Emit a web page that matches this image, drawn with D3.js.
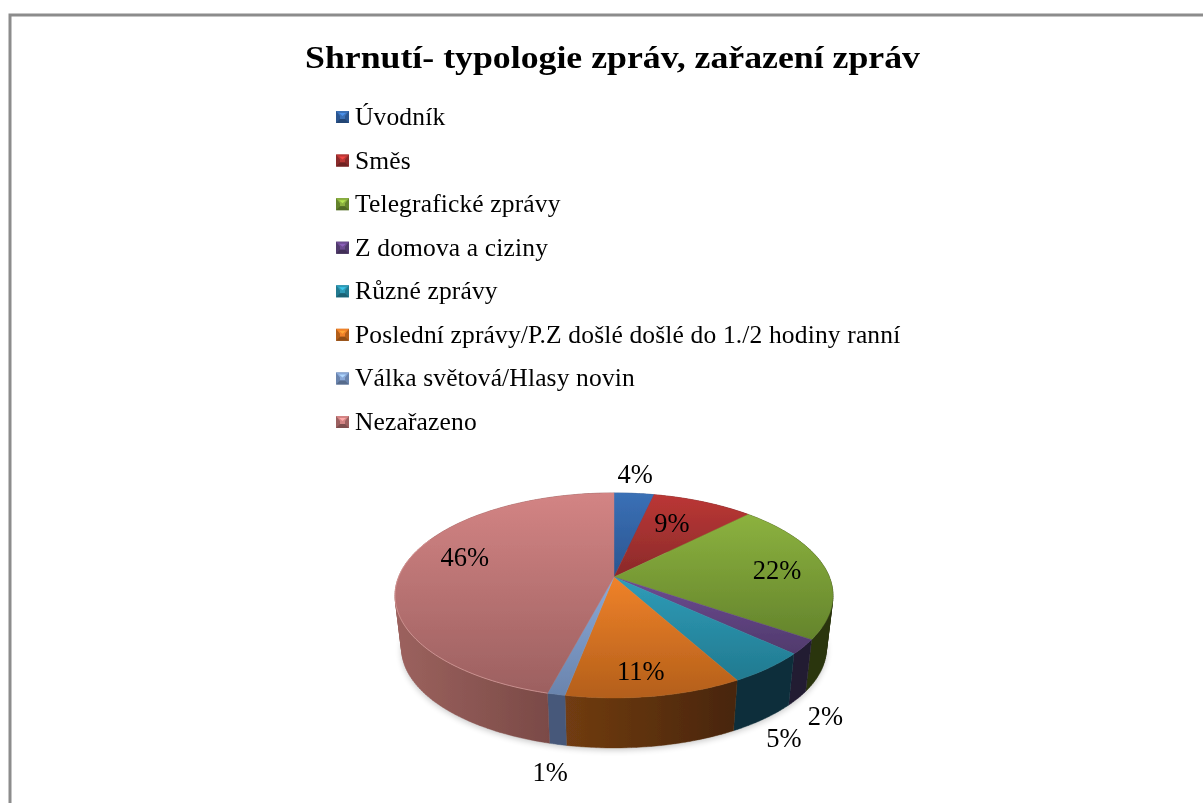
<!DOCTYPE html>
<html><head><meta charset="utf-8">
<script src="https://cdnjs.cloudflare.com/ajax/libs/d3/7.8.5/d3.min.js"></script>
<style>html,body{margin:0;padding:0;background:#fff;overflow:hidden}svg{display:block}</style>
</head><body><svg id="c" width="1203" height="803"></svg>
<script>
const titleText = "Shrnutí- typologie zpráv, zařazení zpráv";
const categories = ["Úvodník","Směs","Telegrafické zprávy","Z domova a ciziny","Různé zprávy","Poslední zprávy/P.Z došlé došlé do 1./2 hodiny ranní","Válka světová/Hlasy novin","Nezařazeno"];
const values = [3.5,8.9,22.2,2.3,5.1,11.0,1.1,45.9];
const percentLabels = ["4%","9%","22%","2%","5%","11%","1%","46%"];
const faceTop = ["#3a70b6","#bb3735","#8cb23f","#6d4b92","#2f9cb8","#f0822a","#8aa9d8","#d38484"];
const faceBottom = ["#2a5590","#8a2a2a","#64842c","#503a6c","#217a90","#b35f1a","#6a84ad","#9c6060"];
const sideLeft = ["#2a4a78","#5e1f1f","#2c3410","#221a33","#0e2f3b","#713c12","#46597a","#9c625e"];
const sideRight = ["#2a4a78","#5e1f1f","#2a3410","#221a33","#0e2f3b","#482508","#46597a","#6c403d"];
// label placement: radial factor, angle nudge in degrees
const labelRadius = [1.28,0.673,0.77,1.367,1.395,0.817,1.469,0.748];
const labelNudge = [-0.9,-2.3,0.2,16.3,12,1.5,-4.2,8.8];

const svg = d3.select("#c");
const defs = svg.append("defs");
const serif = "'Liberation Serif','Times New Roman',serif";

// frame
svg.append("path").attr("d","M10 803V15H1203").attr("fill","none").attr("stroke","#8c8c8c").attr("stroke-width",3);

defs.append("filter").attr("id","soft").attr("x","-5%").attr("y","-5%").attr("width","110%").attr("height","110%")
  .append("feGaussianBlur").attr("stdDeviation",0.55);
defs.append("filter").attr("id","shadow").attr("x","-10%").attr("y","-10%").attr("width","120%").attr("height","120%")
  .append("feGaussianBlur").attr("stdDeviation",3);
defs.append("filter").attr("id","txt").attr("x","-5%").attr("y","-20%").attr("width","110%").attr("height","140%")
  .append("feGaussianBlur").attr("stdDeviation",0.3);

svg.append("text").attr("x",305).attr("y",68)
  .attr("font-family",serif).attr("font-weight","bold").attr("font-size",32.5)
  .attr("textLength",615).attr("lengthAdjust","spacingAndGlyphs").attr("fill","#000").attr("filter","url(#txt)").text(titleText);

// legend
const legendY = d3.scalePoint().domain(categories).range([117,422]);
const lg = svg.append("g").selectAll("g").data(categories).join("g")
  .attr("transform",d=>`translate(336,${legendY(d)})`);
lg.append("rect").attr("x",0).attr("y",-6).attr("width",13).attr("height",12).attr("fill",(d,i)=>faceBottom[i]);
lg.append("path").attr("d","M0 -6H13L9 -1V2H4V-1Z").attr("fill",(d,i)=>faceTop[i]);
lg.append("path").attr("d","M3 -4H10L6.5 -1Z").attr("fill",(d,i)=>d3.color(faceTop[i]).brighter(0.7));
lg.append("path").attr("d","M0 6H13L9 2H4Z").attr("fill",(d,i)=>d3.color(faceBottom[i]).darker(0.6));
lg.append("text").attr("x",19).attr("y",8).attr("font-family",serif).attr("font-size",25.5).attr("letter-spacing",0.15)
  .attr("fill","#000").attr("filter","url(#txt)").text(d=>d);

// projected pie
const cx=614, apexY=577, R=215.4, B=99.2, K=0.18, shrink=0.97, lowerY=630.6;
function project(a,r,y0=apexY,s=1){
  const u=r*Math.sin(a), v=-r*Math.cos(a), w=1-K*v;
  return [cx+R*s*u/w, y0+B*s*v/w];
}
const arcs = d3.pie().sort(null).value(d=>d)(values);
const ring = (a0,a1,y0,s)=>{
  const n=Math.max(2,Math.ceil((a1-a0)/0.02));
  return d3.range(n+1).map(i=>project(a0+(a1-a0)*i/n,1,y0,s));
};
const lineGen=d3.line();
const facePath=d=>lineGen([[cx,apexY],...ring(d.startAngle,d.endAngle,apexY,1)])+"Z";
const sidePath=d=>{
  const t=ring(d.startAngle,d.endAngle,apexY,1), b=ring(d.startAngle,d.endAngle,lowerY,shrink);
  return d3.range(t.length-1).map(i=>{
    const q=[t[i],t[i+1],b[i+1],b[i]];
    if(d3.polygonArea(q)<0) q.reverse();
    return lineGen(q)+"Z";
  }).join("");
};

arcs.forEach((d,i)=>{
  const g=defs.append("linearGradient").attr("id","face"+i)
    .attr("x1",0).attr("x2",0).attr("y1",0).attr("y2",1);
  g.append("stop").attr("offset",0).attr("stop-color",faceTop[i]);
  g.append("stop").attr("offset",1).attr("stop-color",faceBottom[i]);
  const s=defs.append("linearGradient").attr("id","side"+i).attr("x1",0).attr("x2",1).attr("y1",0).attr("y2",0);
  s.append("stop").attr("offset",0).attr("stop-color",sideLeft[i]);
  s.append("stop").attr("offset",1).attr("stop-color",sideRight[i]);
});

const pie=svg.append("g");
pie.append("path").attr("d",lineGen(ring(0,2*Math.PI,lowerY+2,shrink))+"Z").attr("fill","#000").attr("opacity",0.22).attr("filter","url(#shadow)");
const body=pie.append("g").attr("filter","url(#soft)");
body.selectAll("path.side").data(arcs).join("path").attr("class","side").attr("d",sidePath)
  .attr("fill",(d,i)=>`url(#side${i})`).attr("stroke",(d,i)=>`url(#side${i})`).attr("stroke-width",0.4);
body.selectAll("path.face").data(arcs).join("path").attr("class","face").attr("d",facePath)
  .attr("fill",(d,i)=>`url(#face${i})`).attr("stroke",(d,i)=>`url(#face${i})`).attr("stroke-width",0.4);
body.append("path").attr("d",lineGen(ring(arcs[6].endAngle,arcs[7].startAngle+Math.PI*0.55,apexY,1)))
  .attr("fill","none").attr("stroke","#e2a9a6").attr("stroke-width",1).attr("opacity",0.6);

// data labels
svg.append("g").selectAll("text").data(arcs).join("text")
  .each(function(d,i){
    const mid=(d.startAngle+d.endAngle)/2+labelNudge[i]*Math.PI/180;
    const p=project(mid,labelRadius[i]);
    d3.select(this).attr("x",p[0]).attr("y",p[1]+9);
  })
  .attr("text-anchor","middle").attr("font-family",serif).attr("font-size",26.5).attr("fill","#000").attr("filter","url(#txt)")
  .text((d,i)=>percentLabels[i]);
</script></body></html>
